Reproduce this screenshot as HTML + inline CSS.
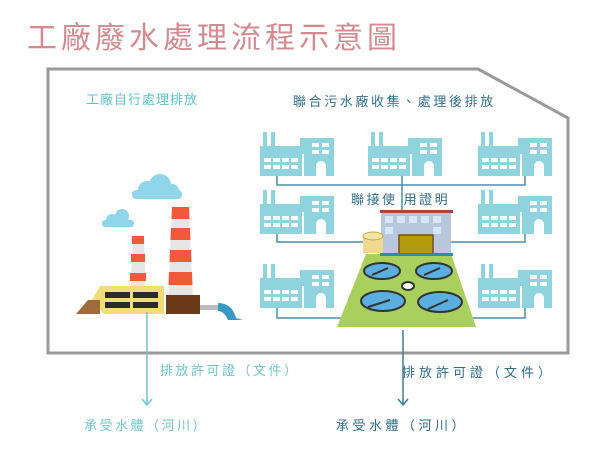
<!DOCTYPE html>
<html><head><meta charset="utf-8"><style>
body{margin:0;background:#fff;width:600px;height:454px;overflow:hidden}
svg text{font-family:"Liberation Sans","Noto Sans CJK TC",sans-serif}
</style></head><body>
<svg width="600" height="454" viewBox="0 0 600 454" xmlns="http://www.w3.org/2000/svg">
<defs>
<g id="fac">
 <rect x="3" y="0" width="4" height="14" fill="#8fd3df"/>
 <rect x="11" y="0" width="4" height="14" fill="#8fd3df"/>
 <rect x="0" y="14" width="50" height="30" fill="#8fd3df"/>
 <rect x="40" y="6" width="34" height="38" fill="#8fd3df"/>
 <g fill="#fff">
  <rect x="4" y="26" width="7" height="4"/><rect x="13" y="26" width="7" height="4"/><rect x="22" y="26" width="7" height="4"/><rect x="31" y="26" width="7" height="4"/>
  <rect x="4" y="33" width="7" height="4"/><rect x="13" y="33" width="7" height="4"/><rect x="22" y="33" width="7" height="4"/><rect x="31" y="33" width="7" height="4"/>
  <rect x="52" y="11" width="7" height="4"/><rect x="62" y="11" width="7" height="4"/>
  <rect x="52" y="18" width="7" height="4"/><rect x="62" y="18" width="7" height="4"/>
  <path d="M56 44 v-10 a5 5 0 0 1 10 0 v10z"/>
  <rect x="42" y="22" width="2" height="22"/>
 </g>
</g>
</defs>
<text x="27" y="48" font-size="30" fill="#d48b8f" letter-spacing="4">工廠廢水處理流程示意圖</text>
<path d="M48 69 H478 L568 118 V353 H48 Z" fill="none" stroke="#9a9a9a" stroke-width="3"/>
<text x="86" y="104" font-size="13" fill="#5cc6cc" letter-spacing="1">工廠自行處理排放</text>
<text x="293" y="106" font-size="13" fill="#2f6d8a" letter-spacing="2.6">聯合污水廠收集、處理後排放</text>

<g stroke="#4a8fae" stroke-width="1.5" fill="none">
 <path d="M277 175 V185 H525 V175"/>
 <path d="M402 175 V212"/>
 <path d="M277 232 V242 H370"/>
 <path d="M525 232 V242 H450"/>
 <path d="M277 308 V318 H345"/>
 <path d="M525 308 V318 H462"/>
</g>
<use href="#fac" x="260" y="132"/>
<use href="#fac" x="368" y="132"/>
<use href="#fac" x="478" y="132"/>
<use href="#fac" x="260" y="190"/>
<use href="#fac" x="478" y="190"/>
<use href="#fac" x="260" y="264"/>
<use href="#fac" x="478" y="264"/>
<text x="351" y="204" font-size="13" fill="#2f6d8a" letter-spacing="2.5">聯接使 用證明</text>

<path d="M366 254 H451 L476 327 H337 Z" fill="#a9cf5c"/>
<rect x="381" y="212" width="70" height="43" fill="#b8c8dc"/>
<rect x="380" y="210" width="73" height="3" fill="#b24040"/>
<g fill="#d8e6f5"><rect x="385" y="216" width="8" height="7"/><rect x="397" y="216" width="8" height="7"/><rect x="409" y="216" width="8" height="7"/><rect x="421" y="216" width="8" height="7"/><rect x="433" y="216" width="8" height="7"/><rect x="385" y="227" width="8" height="7"/><rect x="433" y="227" width="8" height="7"/></g>
<rect x="399" y="235" width="34" height="19" fill="#b59a10" stroke="#7a4a20" stroke-width="1.5"/>
<rect x="380" y="253" width="73" height="3" fill="#2d8bb0"/>
<rect x="363" y="236" width="20" height="17" fill="#f0d890"/>
<ellipse cx="373" cy="236" rx="10" ry="4" fill="#f5e4a8" stroke="#c9a640"/>
<g stroke="#333" stroke-width="2">
 <ellipse cx="382" cy="271" rx="18" ry="8" fill="#5aaee0"/>
 <ellipse cx="434" cy="271" rx="18" ry="8" fill="#5aaee0"/>
 <ellipse cx="383" cy="301" rx="22" ry="10" fill="#5aaee0"/>
 <ellipse cx="440" cy="302" rx="22" ry="10" fill="#5aaee0"/>
 <ellipse cx="408" cy="286" rx="6" ry="4" fill="#fff"/>
 <path d="M372 275 L388 268 M424 275 L440 268 M368 307 L390 300 M428 309 L448 300" fill="none"/>
</g>

<g fill="#8fd6ea">
 <circle cx="147" cy="190" r="9"/><circle cx="160" cy="185" r="11"/><circle cx="172" cy="191" r="7"/><rect x="132" y="190" width="50" height="9" rx="4"/>
 <circle cx="112" cy="220" r="6"/><circle cx="122" cy="216" r="7"/><rect x="102" y="220" width="32" height="7" rx="3"/>
</g>
<path d="M172 207 H189 L193 300 H168 Z" fill="#e6e6e6"/>
<g fill="#f05a3a"><path d="M172 207 H189 L189.5 219 H171.5Z"/><path d="M171 228 H190 L190.5 240 H170.5Z"/><path d="M170 250 H191 L191.5 262 H169.5Z"/><path d="M169 272 H192 L192.5 285 H168.5Z"/></g>
<path d="M133 236 H144 L146 300 H130 Z" fill="#e6e6e6"/>
<g fill="#f05a3a"><rect x="132" y="236" width="12" height="8"/><rect x="131" y="254" width="14" height="8"/><rect x="130" y="273" width="16" height="8"/></g>
<rect x="166" y="295" width="34" height="19" fill="#6a3a18"/>
<path d="M100 286 H164 V314 H104 L92 300 Z" fill="#f0dc78"/>
<g fill="#2a2a2a"><rect x="105" y="292" width="25" height="6"/><rect x="133" y="292" width="25" height="6"/><rect x="105" y="302" width="25" height="6"/><rect x="133" y="302" width="25" height="6"/></g>
<path d="M76 314 H100 V300 H88 Z" fill="#a06a3a"/>
<rect x="200" y="305" width="20" height="5" fill="#bbb"/>
<path d="M218 303 Q232 303 236 318 L243 320 L228 320 Q224 311 218 311 Z" fill="#3a98c4"/>

<g stroke="#6ec6cc" stroke-width="1.5" fill="none"><path d="M147 312 V405"/><path d="M142 399 L147 405 L152 399"/></g>
<g stroke="#3d7a98" stroke-width="1.5" fill="none"><path d="M403 330 V405"/><path d="M398 399 L403 405 L408 399"/></g>
<text x="160" y="375" font-size="13" fill="#6ec6cc" letter-spacing="2.5">排放許可證（文件）</text>
<text x="402" y="377" font-size="13" fill="#2f6d8a" letter-spacing="4">排放許可證（文件）</text>
<text x="84" y="430" font-size="13" fill="#6ec6cc" letter-spacing="2.5">承受水體（河川）</text>
<text x="336" y="430" font-size="13" fill="#2f6d8a" letter-spacing="3.5">承受水體（河川）</text>
</svg>
</body></html>
